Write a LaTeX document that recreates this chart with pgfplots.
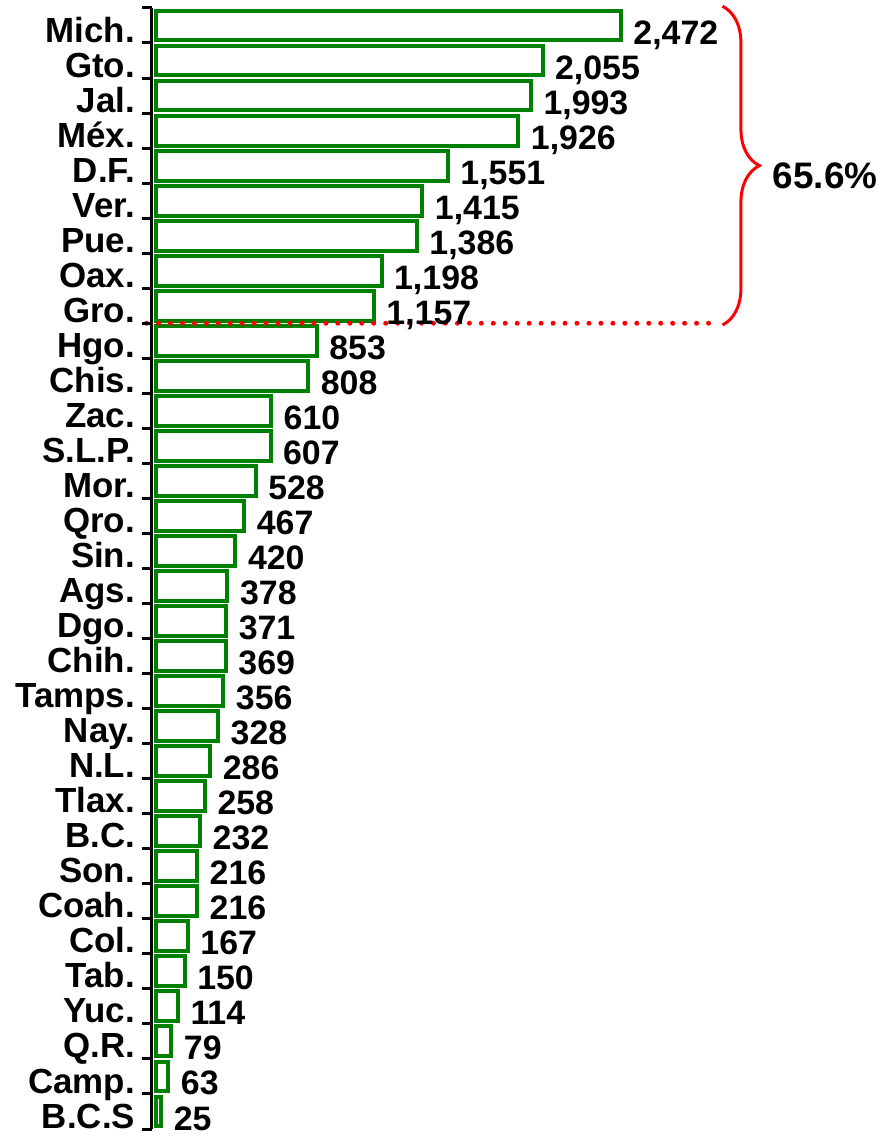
\documentclass[border=0pt]{standalone}
\usepackage{fontspec}
\setmainfont{Liberation Sans}
\usepackage{pgfplots}
\pgfplotsset{compat=1.18}
\usetikzlibrary{decorations.pathreplacing}
\definecolor{bargreen}{RGB}{0,128,0}
\definecolor{bracered}{RGB}{255,0,0}

\begin{document}
\begin{tikzpicture}
\begin{axis}[
 set layers, axis on top,
 scale only axis, width=363.75pt, height=562.5pt,
 xmin=-24, xmax=3835, ymin=-0.5, ymax=31.5, y dir=reverse,
 axis x line=none, axis y line*=left,
 y axis line style={-, line width=1.5pt, black},
 ytick={0,...,31},
 yticklabels={Mich.,Gto.,Jal.,Méx.,D.F.,Ver.,Pue.,Oax.,Gro.,Hgo.,Chis.,Zac.,S.L.P.,Mor.,Qro.,Sin.,Ags.,Dgo.,Chih.,Tamps.,Nay.,N.L.,Tlax.,B.C.,Son.,Coah.,Col.,Tab.,Yuc.,Q.R.,Camp.,B.C.S},
 minor ytick={-0.5,0.5,...,31.5},
 major tick length=0pt, minor tick length=5pt,
 tick align=outside, ytick pos=left,
 minor tick style={black, line width=1.5pt},
 yticklabel style={font=\fontsize{17.5}{20}\selectfont\bfseries, anchor=base east,
   xshift=-5pt, yshift=-8.3pt},
 clip=false,
 xbar, bar width=15pt,
 point meta=x,
 nodes near coords,
 nodes near coords style={font=\fontsize{17}{20}\selectfont\bfseries, anchor=base west,
   xshift=2pt, yshift=-9.3pt,
   /pgf/number format/.cd, fixed, 1000 sep={,}, assume math mode=true},
]
\addplot[draw=bargreen, fill=white, line width=2pt] coordinates {
 (2472,0) (2055,1) (1993,2) (1926,3) (1551,4) (1415,5) (1386,6) (1198,7)
 (1157,8) (853,9) (808,10) (610,11) (607,12) (528,13) (467,14) (420,15)
 (378,16) (371,17) (369,18) (356,19) (328,20) (286,21) (258,22) (232,23)
 (216,24) (216,25) (167,26) (150,27) (114,28) (79,29) (63,30) (25,31)};

% axis line, left of the bars
\draw[on layer=axis foreground, black, line width=1.5pt] (axis cs:-24,-0.5) -- (axis cs:-24,31.5);

% top nine states: dotted separator and brace
\draw[on layer=axis foreground, bracered, line width=2.5pt, line cap=round, dash pattern=on 0pt off 6pt]
 (axis cs:-53,8.5) -- (axis cs:2997,8.5);
\draw[bracered, line width=1.5pt, decorate, decoration={brace, amplitude=18.5pt}]
 (axis cs:3013,-0.55) -- (axis cs:3013,8.55);
\node[anchor=west, font=\fontsize{18.5}{20}\selectfont\bfseries, inner sep=0pt]
 at (axis cs:3279,4.3) {65.6\%};
\path (axis cs:-833,-0.7276) rectangle (axis cs:3835,31.614);
\end{axis}
\end{tikzpicture}
\end{document}
